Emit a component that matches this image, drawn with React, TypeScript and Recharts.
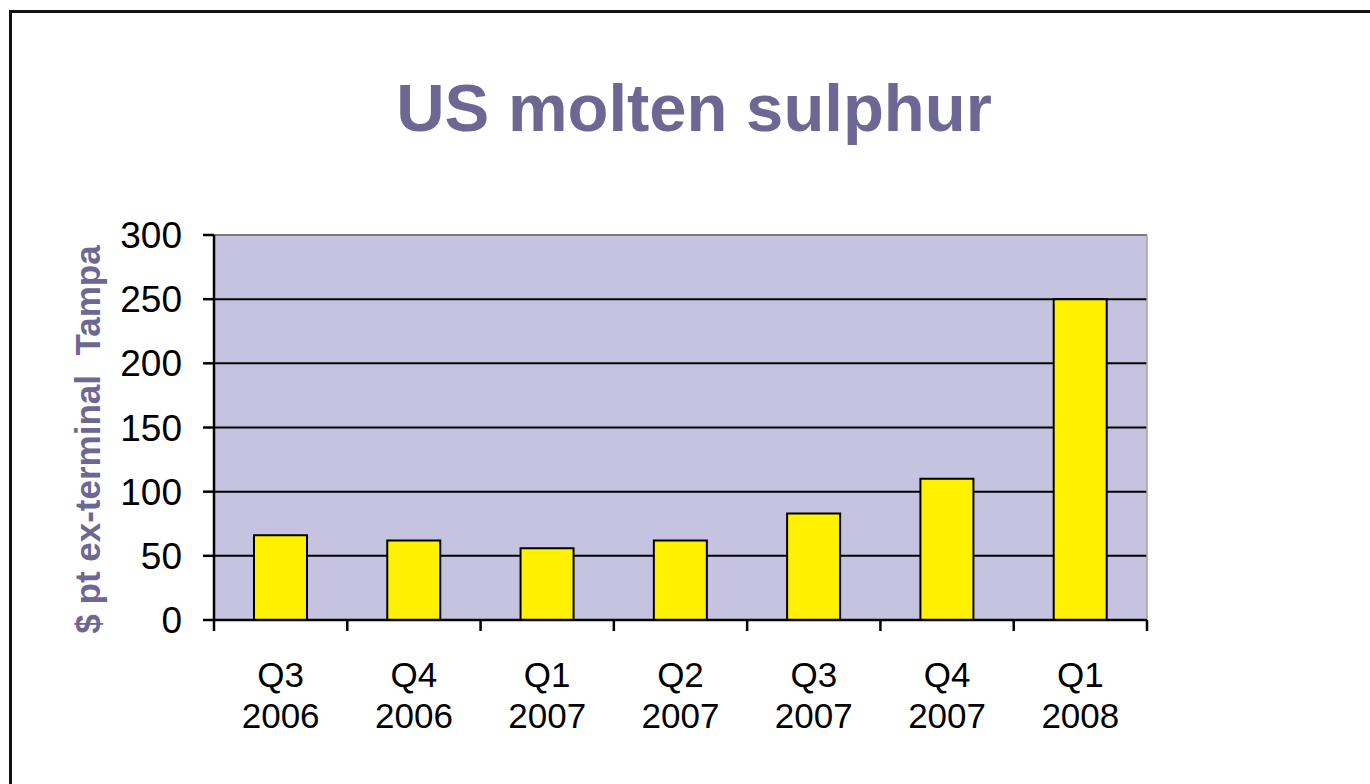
import { BarChart, Bar, XAxis, YAxis, CartesianGrid, ReferenceLine } from 'recharts'

const quarters = ['Q3', 'Q4', 'Q1', 'Q2', 'Q3', 'Q4', 'Q1']
const years = ['2006', '2006', '2007', '2007', '2007', '2007', '2008']
const prices = [66, 62, 56, 62, 83, 110, 250]
const yTicks = [0, 50, 100, 150, 200, 250, 300]

const data = quarters.map((q, i) => ({ name: `${q} ${years[i]}`, price: prices[i] }))

const purple = '#6c6793'
const font = '"Liberation Sans", Arial, sans-serif'

// two-line quarter label plus tick marks on the category boundaries
function QuarterTick(props: any) {
    const { x, y, index, payload, width, visibleTicksCount } = props
    const band = width / visibleTicksCount
    const [q, yr] = String(payload.value).split(' ')
    return (
        <g>
            <line x1={x - band / 2} y1={y} x2={x - band / 2} y2={y + 11} stroke="#000" strokeWidth={2.5} />
            {index === visibleTicksCount - 1 && (
                <line x1={x + band / 2} y1={y} x2={x + band / 2} y2={y + 11} stroke="#000" strokeWidth={2.5} />
            )}
            <text x={x} y={y + 67} textAnchor="middle" fontSize={35} fill="#000" fontFamily={font}>{q}</text>
            <text x={x} y={y + 108} textAnchor="middle" fontSize={35} fill="#000" fontFamily={font}>{yr}</text>
        </g>
    )
}

function YTitle(props: any) {
    const vb = props.viewBox
    const cx = vb.x + 13
    const cy = vb.y + vb.height / 2 + 12
    return (
        <text
            x={cx}
            y={cy}
            transform={`rotate(-90 ${cx} ${cy})`}
            textAnchor="middle"
            dominantBaseline="central"
            fontSize={35}
            fontWeight="bold"
            fill={purple}
            fontFamily={font}
            style={{ whiteSpace: 'pre' }}
        >
            {'$ pt ex-terminal  Tampa'}
        </text>
    )
}

export default function App() {
    return (
        <div style={{ position: 'fixed', top: 0, left: 0, width: 1370, height: 784, background: '#fff', fontFamily: font, overflow: 'hidden' }}>
            <div style={{ position: 'absolute', left: 9, top: 10, width: 1400, height: 800, borderTop: '3px solid #111', borderLeft: '3px solid #111' }} />
            <div style={{ position: 'absolute', left: 0, top: 68, width: 1388, textAlign: 'center', fontSize: 67, fontWeight: 'bold', color: purple, lineHeight: '80px' }}>
                US molten sulphur
            </div>
            <div style={{ position: 'absolute', left: 0, top: 0 }}>
                <BarChart width={1370} height={784} data={data} margin={{ top: 235, right: 223, bottom: 64, left: 74 }} barCategoryGap="30%">
                    <CartesianGrid vertical={false} stroke="#000" strokeWidth={2} fill="#c6c3e1" />
                    <CartesianGrid
                        horizontal={false}
                        stroke="#aaa2a2"
                        strokeWidth={1.5}
                        verticalCoordinatesGenerator={({ offset }: any) => [offset.left + offset.width]}
                    />
                    <ReferenceLine y={300} stroke="#aaa2a2" strokeWidth={1.5} />
                    <XAxis
                        dataKey="name"
                        height={100}
                        tickLine={false}
                        tickSize={0}
                        tickMargin={0}
                        axisLine={{ stroke: '#000', strokeWidth: 2.5 }}
                        tick={<QuarterTick />}
                        interval={0}
                    />
                    <YAxis
                        width={140}
                        domain={[0, 300]}
                        ticks={yTicks}
                        interval={0}
                        tickSize={11}
                        tickMargin={21}
                        tickLine={{ stroke: '#000', strokeWidth: 2.5 }}
                        axisLine={{ stroke: '#000', strokeWidth: 2.5 }}
                        tick={{ fill: '#000', fontSize: 37, fontFamily: font }}
                        label={{ value: '$ pt ex-terminal  Tampa', content: YTitle }}
                    />
                    <Bar dataKey="price" fill="#fff100" stroke="#000" strokeWidth={2} isAnimationActive={false} />
                </BarChart>
            </div>
        </div>
    )
}
